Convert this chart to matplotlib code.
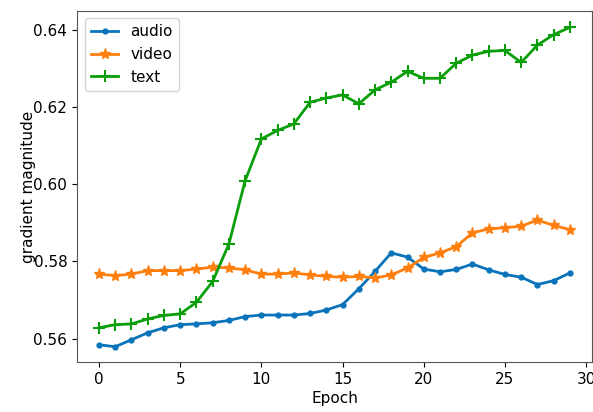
import matplotlib
matplotlib.use("Agg")
import matplotlib.pyplot as plt

epochs = list(range(30))

audio = [0.5584, 0.5579, 0.5597, 0.5615, 0.5628, 0.5636, 0.5638, 0.5641, 0.5647, 0.5657,
         0.5661, 0.5661, 0.5661, 0.5665, 0.5674, 0.5688, 0.5729, 0.5774, 0.5822, 0.5811,
         0.5780, 0.5773, 0.5779, 0.5793, 0.5778, 0.5766, 0.5759, 0.5740, 0.5750, 0.5770]

video = [0.5767, 0.5763, 0.5767, 0.5776, 0.5776, 0.5776, 0.5780, 0.5785, 0.5783, 0.5778,
         0.5767, 0.5767, 0.5770, 0.5765, 0.5761, 0.5759, 0.5761, 0.5757, 0.5765, 0.5783,
         0.5810, 0.5822, 0.5838, 0.5874, 0.5884, 0.5887, 0.5891, 0.5907, 0.5893, 0.5882]

text = [0.5628, 0.5636, 0.5638, 0.5651, 0.5660, 0.5664, 0.5694, 0.5748, 0.5845, 0.6009,
        0.6117, 0.6139, 0.6156, 0.6212, 0.6223, 0.6231, 0.6208, 0.6244, 0.6264, 0.6292,
        0.6274, 0.6274, 0.6313, 0.6334, 0.6344, 0.6346, 0.6315, 0.6360, 0.6387, 0.6406]

plt.rcParams['font.size'] = 11

fig = plt.figure(figsize=(5.93, 4.12), dpi=100)
ax = fig.add_axes([0.130, 0.121, 0.868, 0.853])

# slightly more saturated than the default cycle, as in the reference
ax.plot(epochs, audio, marker='.', linewidth=2, markersize=7, color='#0a74bb', label='audio')
ax.plot(epochs, video, marker='*', linewidth=2, markersize=8, color='#ff7f0e', label='video')
ax.plot(epochs, text, marker='+', linewidth=2, markersize=9, markeredgewidth=1.5,
        color='#0a9e0a', label='text')

ax.set_xlabel('Epoch', labelpad=3)
ax.set_ylabel('gradient magnitude', labelpad=-2)
ax.set_xticks([0, 5, 10, 15, 20, 25, 30])
ax.set_yticks([0.56, 0.58, 0.60, 0.62, 0.64])
ax.set_xlim(-1.35, 30.35)
ax.set_ylim(0.5539, 0.6449)
ax.legend(loc='upper left', handlelength=1.8)

for s in ax.spines.values():
    s.set_color('#555555')

fig.savefig('out.png', dpi=100)
